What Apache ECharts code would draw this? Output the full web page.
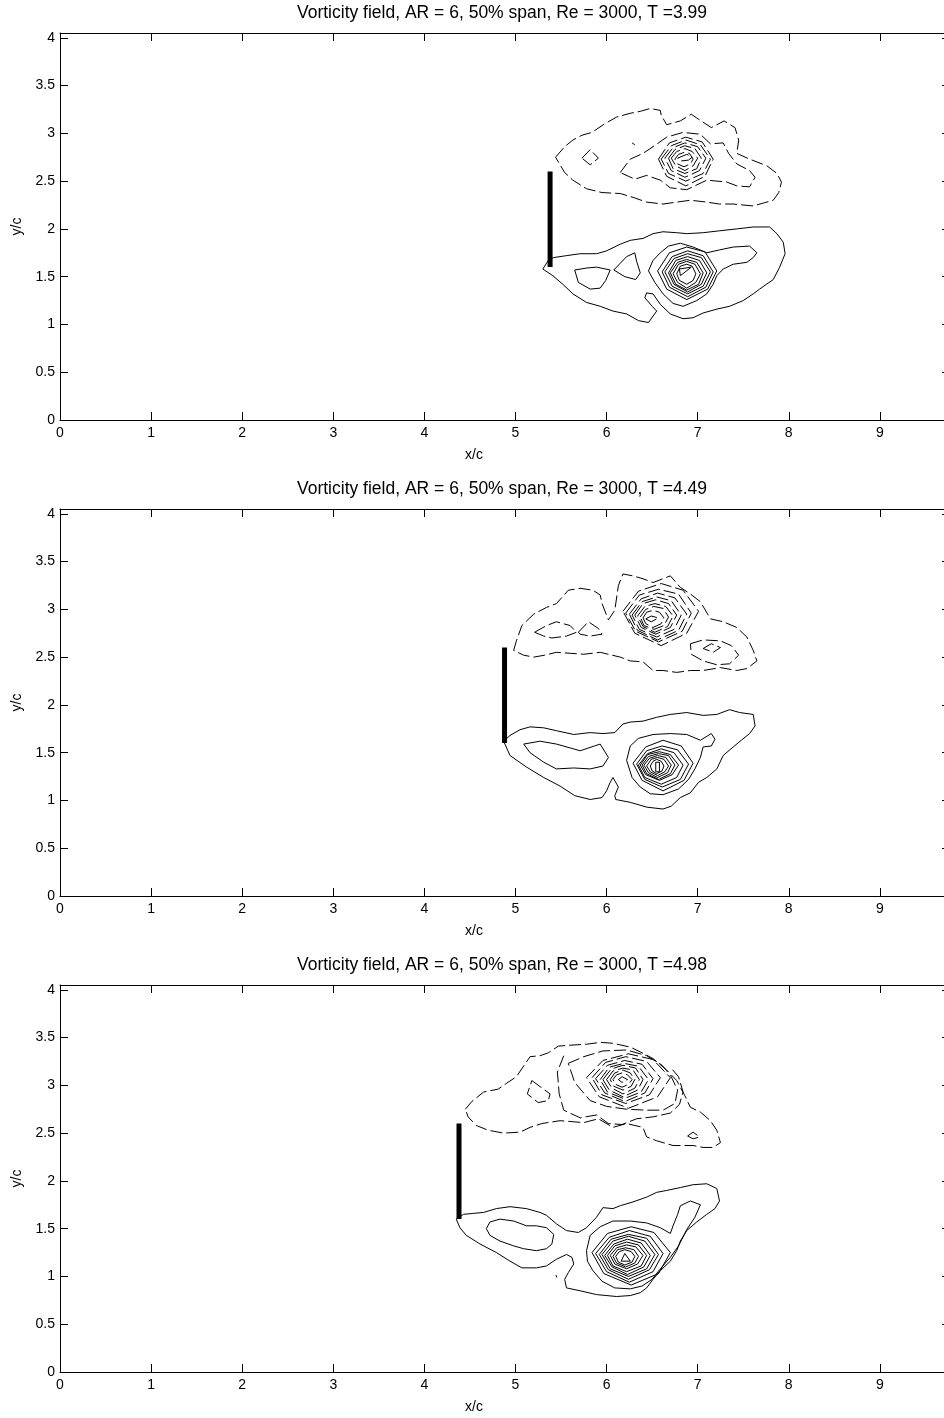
<!DOCTYPE html>
<html><head><meta charset="utf-8">
<script src="https://cdn.jsdelivr.net/npm/echarts@6/dist/echarts.min.js"></script>
<style>html,body{margin:0;padding:0;background:#fff;overflow:hidden;width:944px;height:1418px}#c{width:952px;height:1418px}</style>
</head><body><div id="c"></div>
<script>
const titles = ['Vorticity field, AR = 6, 50% span, Re = 3000, T =3.99','Vorticity field, AR = 6, 50% span, Re = 3000, T =4.49','Vorticity field, AR = 6, 50% span, Re = 3000, T =4.98'];
const xTicks = [0,1,2,3,4,5,6,7,8,9];
const yTicks = [0,0.5,1,1.5,2,2.5,3,3.5,4];
const plateX = [5.38, 4.88, 4.38];
const plateY = [1.6, 2.6];

// ---------- Panel 1 (T = 3.99) ----------
const p1Solid = [
 [[5.36,1.67],[5.30,1.58],[5.41,1.51],[5.52,1.42],[5.63,1.32],[5.78,1.23],[5.93,1.19],[6.07,1.14],[6.22,1.11],[6.35,1.04],[6.46,1.02],[6.55,1.14],[6.50,1.19],[6.42,1.28],[6.44,1.33],[6.51,1.32],[6.59,1.21],[6.70,1.11],[6.84,1.06],[6.95,1.07],[7.06,1.12],[7.21,1.16],[7.35,1.19],[7.50,1.25],[7.61,1.32],[7.68,1.37],[7.83,1.47],[7.90,1.60],[7.96,1.74],[7.94,1.86],[7.87,1.95],[7.79,2.02],[7.61,2.02],[7.43,2.00],[7.24,1.98],[7.06,1.96],[6.88,1.95],[6.77,1.96],[6.62,1.97],[6.51,1.95],[6.40,1.90],[6.26,1.88],[6.15,1.84],[6.00,1.77],[5.89,1.74],[5.71,1.74],[5.56,1.72],[5.42,1.70]],
 [[5.65,1.57],[5.69,1.44],[5.82,1.37],[5.93,1.38],[5.99,1.46],[6.04,1.57],[5.89,1.60],[5.78,1.59]],
 [[6.08,1.57],[6.22,1.71],[6.31,1.75],[6.33,1.66],[6.37,1.54],[6.32,1.47],[6.20,1.50]],
 [[6.46,1.56],[6.51,1.67],[6.59,1.75],[6.68,1.82],[6.81,1.85],[6.95,1.81],[7.10,1.75],[7.24,1.78],[7.39,1.81],[7.57,1.82],[7.65,1.75],[7.61,1.70],[7.54,1.65],[7.39,1.63],[7.28,1.58],[7.21,1.51],[7.17,1.42],[7.10,1.32],[6.99,1.25],[6.84,1.19],[6.73,1.22],[6.62,1.32],[6.53,1.44]],
 [[6.56,1.56],[6.69,1.75],[6.88,1.81],[7.08,1.76],[7.21,1.56],[7.11,1.37],[6.88,1.26],[6.66,1.37]],
 [[6.61,1.55],[6.72,1.71],[6.89,1.77],[7.06,1.72],[7.17,1.55],[7.09,1.39],[6.89,1.29],[6.69,1.39]],
 [[6.64,1.55],[6.74,1.69],[6.89,1.74],[7.04,1.70],[7.14,1.55],[7.06,1.40],[6.89,1.32],[6.72,1.40]],
 [[6.68,1.54],[6.76,1.67],[6.89,1.71],[7.02,1.67],[7.10,1.54],[7.04,1.42],[6.89,1.34],[6.74,1.42]],
 [[6.70,1.54],[6.78,1.65],[6.88,1.68],[6.99,1.65],[7.06,1.54],[7.01,1.42],[6.88,1.36],[6.76,1.42]],
 [[6.73,1.53],[6.79,1.63],[6.88,1.66],[6.97,1.63],[7.03,1.53],[6.98,1.44],[6.88,1.38],[6.78,1.44]],
 [[6.77,1.53],[6.81,1.61],[6.88,1.63],[6.94,1.61],[6.98,1.53],[6.95,1.46],[6.88,1.42],[6.80,1.46]],
 [[6.80,1.58],[6.93,1.60],[6.81,1.51]]
];
const p1Dashed = [
 [[5.44,2.75],[5.54,2.86],[5.63,2.93],[5.73,2.98],[5.84,3.01],[5.98,3.10],[6.11,3.17],[6.26,3.21],[6.37,3.23],[6.48,3.26],[6.59,3.24],[6.60,3.19],[6.66,3.09],[6.81,3.13],[6.93,3.20],[6.99,3.16],[7.15,3.06],[7.29,3.13],[7.41,3.06],[7.45,2.93],[7.43,2.79],[7.57,2.73],[7.76,2.66],[7.87,2.58],[7.92,2.49],[7.89,2.38],[7.83,2.30],[7.72,2.27],[7.61,2.24],[7.39,2.26],[7.24,2.26],[7.10,2.28],[6.92,2.30],[6.77,2.28],[6.62,2.26],[6.44,2.28],[6.29,2.33],[6.15,2.37],[5.95,2.38],[5.78,2.42],[5.63,2.51],[5.54,2.59]],
 [[6.15,2.59],[6.26,2.73],[6.40,2.79],[6.51,2.86],[6.66,2.96],[6.84,3.01],[7.03,2.99],[7.14,2.89],[7.28,2.90],[7.34,2.79],[7.43,2.68],[7.57,2.61],[7.63,2.54],[7.57,2.44],[7.43,2.45],[7.32,2.49],[7.10,2.51],[6.88,2.41],[6.70,2.43],[6.59,2.51],[6.44,2.56],[6.31,2.52]],
 [[6.57,2.73],[6.69,2.90],[6.87,2.96],[7.05,2.91],[7.17,2.73],[7.08,2.55],[6.87,2.45],[6.66,2.55]],
 [[6.60,2.73],[6.71,2.87],[6.87,2.93],[7.03,2.88],[7.14,2.73],[7.06,2.58],[6.87,2.50],[6.68,2.58]],
 [[6.64,2.74],[6.73,2.85],[6.86,2.90],[7.00,2.86],[7.09,2.74],[7.02,2.61],[6.86,2.54],[6.71,2.61]],
 [[6.68,2.74],[6.75,2.83],[6.86,2.87],[6.97,2.84],[7.04,2.74],[6.99,2.63],[6.86,2.58],[6.73,2.63]],
 [[6.71,2.74],[6.77,2.81],[6.86,2.84],[6.94,2.81],[7.00,2.74],[6.95,2.66],[6.86,2.61],[6.76,2.66]],
 [[6.75,2.73],[6.79,2.78],[6.85,2.80],[6.91,2.79],[6.95,2.73],[6.92,2.68],[6.85,2.65],[6.78,2.68]],
 [[6.78,2.74],[6.88,2.78],[6.94,2.75],[6.90,2.72],[6.81,2.71]],
 [[5.73,2.74],[5.82,2.83],[5.91,2.74],[5.82,2.67]]
];
const p1Open = [
 [[6.28,2.90],[6.31,2.88]]
];

// ---------- Panel 2 (T = 4.49) ----------
const p2Solid = [
 [[4.87,1.62],[4.94,1.47],[5.12,1.35],[5.31,1.24],[5.49,1.15],[5.65,1.05],[5.82,1.01],[5.95,1.03],[6.00,1.10],[6.04,1.19],[6.07,1.24],[6.13,1.14],[6.09,1.05],[6.10,1.01],[6.26,0.98],[6.44,0.93],[6.62,0.91],[6.71,0.94],[6.81,1.03],[6.92,1.08],[7.01,1.19],[7.10,1.24],[7.21,1.33],[7.28,1.47],[7.39,1.56],[7.48,1.63],[7.57,1.70],[7.63,1.78],[7.61,1.90],[7.46,1.92],[7.35,1.95],[7.21,1.90],[7.06,1.89],[6.88,1.92],[6.70,1.90],[6.55,1.87],[6.40,1.83],[6.26,1.82],[6.18,1.80],[6.09,1.71],[5.96,1.70],[5.82,1.71],[5.64,1.69],[5.45,1.73],[5.31,1.76],[5.16,1.77],[5.05,1.74],[4.94,1.68]],
 [[5.09,1.59],[5.27,1.62],[5.45,1.59],[5.71,1.52],[5.93,1.59],[6.02,1.45],[5.96,1.36],[5.82,1.33],[5.64,1.34],[5.45,1.33],[5.31,1.40],[5.16,1.50]],
 [[6.22,1.42],[6.26,1.57],[6.35,1.65],[6.51,1.69],[6.70,1.70],[6.88,1.69],[7.03,1.63],[7.15,1.70],[7.19,1.64],[7.15,1.57],[7.06,1.56],[7.03,1.45],[6.97,1.33],[6.90,1.22],[6.79,1.12],[6.62,1.06],[6.48,1.07],[6.37,1.14],[6.28,1.24]],
 [[6.29,1.39],[6.43,1.56],[6.62,1.63],[6.82,1.57],[6.95,1.39],[6.85,1.21],[6.62,1.10],[6.39,1.21]],
 [[6.33,1.38],[6.44,1.52],[6.61,1.57],[6.78,1.53],[6.90,1.38],[6.81,1.22],[6.61,1.14],[6.42,1.22]],
 [[6.35,1.37],[6.45,1.49],[6.60,1.54],[6.74,1.50],[6.84,1.37],[6.77,1.24],[6.60,1.17],[6.42,1.24]],
 [[6.37,1.37],[6.45,1.48],[6.58,1.51],[6.70,1.48],[6.79,1.37],[6.72,1.27],[6.58,1.21],[6.43,1.27]],
 [[6.39,1.37],[6.46,1.46],[6.57,1.49],[6.68,1.47],[6.75,1.37],[6.70,1.28],[6.57,1.22],[6.44,1.28]],
 [[6.41,1.37],[6.47,1.44],[6.56,1.47],[6.65,1.45],[6.71,1.37],[6.67,1.29],[6.56,1.24],[6.46,1.29]],
 [[6.44,1.36],[6.49,1.43],[6.56,1.45],[6.63,1.43],[6.68,1.36],[6.64,1.30],[6.56,1.26],[6.48,1.30]],
 [[6.48,1.36],[6.51,1.41],[6.55,1.43],[6.60,1.41],[6.63,1.36],[6.61,1.31],[6.55,1.28],[6.50,1.31]],
 [[6.54,1.40],[6.58,1.40],[6.58,1.30],[6.54,1.30]]
];
const p2Dashed = [
 [[4.98,2.57],[5.01,2.67],[5.07,2.83],[5.20,2.95],[5.34,3.02],[5.45,3.06],[5.58,3.20],[5.71,3.22],[5.85,3.20],[5.93,3.15],[5.95,3.06],[6.02,2.89],[6.09,2.99],[6.13,3.25],[6.18,3.37],[6.29,3.35],[6.40,3.32],[6.51,3.28],[6.70,3.35],[6.81,3.23],[6.92,3.16],[7.03,3.08],[7.14,2.90],[7.28,2.87],[7.43,2.81],[7.54,2.71],[7.61,2.57],[7.65,2.46],[7.54,2.38],[7.43,2.36],[7.25,2.39],[7.06,2.36],[6.92,2.36],[6.77,2.34],[6.62,2.36],[6.51,2.36],[6.40,2.45],[6.26,2.46],[6.15,2.50],[5.93,2.55],[5.75,2.53],[5.60,2.54],[5.45,2.55],[5.32,2.52],[5.20,2.50],[5.09,2.52]],
 [[5.21,2.76],[5.34,2.83],[5.45,2.87],[5.60,2.83],[5.67,2.76],[5.56,2.72],[5.40,2.70],[5.31,2.72]],
 [[5.69,2.76],[5.80,2.87],[5.91,2.80],[5.95,2.74],[5.82,2.72],[5.71,2.74]],
 [[6.18,2.98],[6.35,3.19],[6.60,3.27],[6.84,3.20],[7.01,2.98],[6.88,2.75],[6.60,2.62],[6.31,2.75]],
 [[6.21,2.96],[6.36,3.15],[6.57,3.21],[6.79,3.16],[6.93,2.96],[6.83,2.77],[6.57,2.66],[6.32,2.77]],
 [[6.25,2.95],[6.38,3.11],[6.56,3.17],[6.75,3.12],[6.88,2.95],[6.79,2.78],[6.56,2.68],[6.34,2.78]],
 [[6.28,2.94],[6.39,3.08],[6.55,3.13],[6.71,3.09],[6.82,2.94],[6.74,2.79],[6.55,2.71],[6.36,2.79]],
 [[6.31,2.94],[6.40,3.06],[6.54,3.10],[6.68,3.06],[6.77,2.94],[6.70,2.81],[6.54,2.74],[6.38,2.81]],
 [[6.34,2.93],[6.42,3.03],[6.53,3.06],[6.65,3.03],[6.73,2.93],[6.67,2.82],[6.53,2.76],[6.40,2.82]],
 [[6.37,2.92],[6.43,3.00],[6.52,3.03],[6.62,3.01],[6.68,2.92],[6.63,2.83],[6.52,2.79],[6.41,2.83]],
 [[6.40,2.91],[6.44,2.97],[6.51,2.99],[6.58,2.97],[6.63,2.91],[6.60,2.85],[6.51,2.81],[6.43,2.85]],
 [[6.43,2.90],[6.49,2.93],[6.57,2.91],[6.49,2.87]],
 [[6.92,2.64],[7.06,2.68],[7.25,2.67],[7.37,2.62],[7.45,2.52],[7.35,2.43],[7.21,2.42],[7.06,2.46],[6.93,2.53]],
 [[7.06,2.59],[7.15,2.64],[7.25,2.60],[7.17,2.55]]
];
const p2Open = [];

// ---------- Panel 3 (T = 4.98) ----------
const p3Solid = [
 [[4.35,1.60],[4.39,1.51],[4.46,1.43],[4.61,1.34],[4.79,1.25],[4.94,1.16],[5.07,1.09],[5.23,1.09],[5.34,1.11],[5.45,1.18],[5.56,1.23],[5.62,1.20],[5.64,1.13],[5.58,1.04],[5.54,0.97],[5.56,0.88],[5.71,0.85],[5.89,0.81],[6.11,0.79],[6.26,0.80],[6.37,0.83],[6.44,0.88],[6.51,0.97],[6.59,1.06],[6.70,1.16],[6.77,1.27],[6.81,1.37],[6.88,1.48],[6.99,1.57],[7.10,1.65],[7.19,1.71],[7.24,1.79],[7.21,1.92],[7.10,1.97],[6.95,1.96],[6.81,1.93],[6.66,1.90],[6.55,1.88],[6.44,1.83],[6.29,1.78],[6.15,1.74],[6.07,1.71],[5.96,1.72],[5.89,1.62],[5.78,1.51],[5.69,1.46],[5.56,1.48],[5.45,1.55],[5.34,1.64],[5.27,1.67],[5.12,1.71],[4.94,1.73],[4.79,1.71],[4.65,1.67],[4.54,1.66],[4.43,1.65]],
 [[4.68,1.50],[4.72,1.57],[4.83,1.60],[4.98,1.58],[5.12,1.53],[5.23,1.53],[5.34,1.51],[5.42,1.44],[5.40,1.34],[5.34,1.29],[5.23,1.27],[5.09,1.29],[4.98,1.32],[4.83,1.37],[4.72,1.43]],
 [[5.78,1.27],[5.82,1.43],[5.93,1.52],[6.07,1.58],[6.26,1.58],[6.44,1.56],[6.59,1.51],[6.70,1.45],[6.73,1.53],[6.78,1.65],[6.81,1.74],[6.92,1.79],[7.03,1.75],[6.97,1.62],[6.88,1.49],[6.79,1.32],[6.70,1.20],[6.59,1.08],[6.50,0.97],[6.39,0.90],[6.26,0.87],[6.09,0.88],[5.95,0.95],[5.85,1.06],[5.79,1.16]],
 [[5.84,1.25],[6.01,1.45],[6.27,1.52],[6.52,1.46],[6.70,1.25],[6.57,1.03],[6.27,0.91],[5.97,1.03]],
 [[5.88,1.24],[6.03,1.41],[6.25,1.48],[6.48,1.42],[6.62,1.24],[6.51,1.05],[6.25,0.94],[6.00,1.05]],
 [[5.92,1.23],[6.05,1.39],[6.24,1.44],[6.44,1.40],[6.57,1.23],[6.47,1.07],[6.24,0.97],[6.02,1.07]],
 [[5.95,1.23],[6.07,1.37],[6.24,1.42],[6.42,1.37],[6.53,1.23],[6.44,1.08],[6.24,1.00],[6.04,1.08]],
 [[5.98,1.22],[6.08,1.34],[6.23,1.39],[6.38,1.35],[6.48,1.22],[6.41,1.10],[6.23,1.02],[6.06,1.10]],
 [[6.01,1.22],[6.09,1.32],[6.22,1.36],[6.35,1.33],[6.44,1.22],[6.38,1.11],[6.22,1.05],[6.07,1.11]],
 [[6.04,1.22],[6.11,1.30],[6.22,1.33],[6.32,1.31],[6.40,1.22],[6.34,1.13],[6.22,1.08],[6.09,1.13]],
 [[6.07,1.21],[6.12,1.28],[6.21,1.30],[6.30,1.28],[6.35,1.21],[6.31,1.14],[6.21,1.10],[6.11,1.14]],
 [[6.10,1.21],[6.14,1.26],[6.20,1.28],[6.27,1.26],[6.31,1.21],[6.28,1.15],[6.20,1.12],[6.13,1.15]],
 [[6.16,1.16],[6.20,1.24],[6.26,1.16]]
];
const p3SolidOpen = [
 [[5.445,1.015],[5.452,0.99]]
];
const p3Dashed = [
 [[4.45,2.75],[4.52,2.83],[4.65,2.93],[4.81,2.96],[4.90,3.02],[5.01,3.09],[5.16,3.30],[5.27,3.31],[5.36,3.34],[5.47,3.41],[5.60,3.42],[5.78,3.43],[5.93,3.45],[6.07,3.44],[6.26,3.40],[6.37,3.35],[6.51,3.28],[6.66,3.16],[6.77,3.05],[6.86,2.89],[6.92,2.77],[7.03,2.72],[7.14,2.63],[7.21,2.53],[7.25,2.40],[7.17,2.35],[7.06,2.35],[6.95,2.37],[6.84,2.37],[6.73,2.37],[6.55,2.42],[6.44,2.46],[6.40,2.56],[6.22,2.60],[6.07,2.56],[5.91,2.65],[5.75,2.61],[5.49,2.63],[5.29,2.60],[5.16,2.56],[5.05,2.51],[4.87,2.50],[4.70,2.53],[4.57,2.58],[4.48,2.67]],
 [[5.18,3.05],[5.38,2.91],[5.36,2.84],[5.25,2.82],[5.13,2.91]],
 [[5.58,3.23],[5.75,3.30],[5.96,3.36],[6.22,3.37],[6.44,3.31],[6.61,3.21],[6.71,3.09],[6.78,2.95],[6.75,2.81],[6.62,2.74],[6.44,2.74],[6.22,2.75],[6.00,2.78],[5.82,2.84],[5.65,3.03]],
 [[5.78,3.08],[5.96,3.26],[6.24,3.33],[6.51,3.27],[6.70,3.08],[6.56,2.88],[6.24,2.76],[5.92,2.88]],
 [[5.84,3.08],[5.99,3.24],[6.21,3.30],[6.44,3.25],[6.59,3.08],[6.47,2.90],[6.21,2.81],[5.95,2.90]],
 [[5.88,3.07],[6.01,3.21],[6.20,3.26],[6.39,3.22],[6.51,3.07],[6.42,2.92],[6.20,2.83],[5.98,2.92]],
 [[5.93,3.06],[6.03,3.19],[6.19,3.23],[6.35,3.20],[6.46,3.06],[6.38,2.93],[6.19,2.86],[6.01,2.93]],
 [[5.96,3.06],[6.05,3.17],[6.18,3.21],[6.32,3.18],[6.40,3.06],[6.34,2.95],[6.18,2.88],[6.03,2.95]],
 [[6.00,3.06],[6.07,3.15],[6.18,3.18],[6.29,3.16],[6.36,3.06],[6.31,2.97],[6.18,2.91],[6.06,2.97]],
 [[6.04,3.06],[6.09,3.13],[6.18,3.16],[6.26,3.13],[6.31,3.06],[6.27,2.99],[6.18,2.95],[6.08,2.99]],
 [[6.07,3.06],[6.11,3.11],[6.17,3.13],[6.23,3.11],[6.28,3.06],[6.24,3.01],[6.17,2.98],[6.10,3.01]],
 [[6.13,3.06],[6.17,3.09],[6.23,3.06],[6.17,3.03]],
 [[6.89,2.47],[6.95,2.51],[7.02,2.46],[6.95,2.44]]
];
const p3Open = [
 [[5.53,3.31],[5.46,3.14],[5.48,2.91],[5.53,2.74],[5.71,2.66],[5.89,2.69],[6.02,2.60],[6.17,2.59],[6.33,2.65],[6.51,2.67],[6.70,2.71],[6.80,2.80],[6.84,2.93],[6.79,3.09],[6.70,3.19]]
];

const panels = [
 {solid:p1Solid, solidOpen:[], dashed:p1Dashed, dashedOpen:p1Open},
 {solid:p2Solid, solidOpen:[], dashed:p2Dashed, dashedOpen:p2Open},
 {solid:p3Solid, solidOpen:p3SolidOpen, dashed:p3Dashed, dashedOpen:p3Open}
];

const FONT = '"Liberation Sans", Arial, Helvetica, sans-serif';
const chart = echarts.init(document.getElementById('c'), null, {renderer:'canvas'});
const grids = [], xAxes = [], yAxes = [], series = [], titleList = [];
const GT = [33, 509, 985];
const XMAX = 9.77;
for (let i = 0; i < 3; i++) {
 grids.push({left:60, top:GT[i], width:890, height:387, containLabel:false});
 titleList.push({text:titles[i], left:502, top:GT[i]-29, textAlign:'center', padding:0,
   textStyle:{fontSize:17.5, fontWeight:'normal', color:'#000', fontFamily:FONT}});
}
const axLine = {show:true, onZero:false, lineStyle:{color:'#000', width:1}};
for (let i = 0; i < 3; i++) {
 xAxes.push({type:'value', gridIndex:i, min:0, max:XMAX, interval:1, position:'bottom',
   axisLine:axLine, axisTick:{show:true, inside:true, length:8, lineStyle:{color:'#000'}},
   splitLine:{show:false},
   axisLabel:{show:true, margin:6, color:'#000', fontSize:14, fontFamily:FONT, showMaxLabel:false,
     formatter:v => xTicks.indexOf(Math.round(v*100)/100) >= 0 ? String(Math.round(v)) : ''},
   name:'x/c', nameLocation:'middle', nameGap:28,
   nameTextStyle:{color:'#000', fontSize:14, fontFamily:FONT, padding:[0,62,0,0]}});
}
for (let i = 0; i < 3; i++) {
 xAxes.push({type:'value', gridIndex:i, min:0, max:XMAX, interval:1, position:'top',
   axisLine:axLine, axisTick:{show:true, inside:true, length:8, lineStyle:{color:'#000'}},
   splitLine:{show:false}, axisLabel:{show:false}});
}
for (let i = 0; i < 3; i++) {
 yAxes.push({type:'value', gridIndex:i, min:0, max:4.05, interval:0.5, position:'left',
   axisLine:axLine, axisTick:{show:true, inside:true, length:8, lineStyle:{color:'#000'}},
   splitLine:{show:false},
   axisLabel:{show:true, margin:5, color:'#000', fontSize:14, fontFamily:FONT,
     formatter:v => yTicks.indexOf(Math.round(v*100)/100) >= 0 ? String(Math.round(v*10)/10) : ''},
   name:'y/c', nameLocation:'middle', nameGap:34, nameRotate:90,
   nameTextStyle:{color:'#000', fontSize:14, fontFamily:FONT}});
}
for (let i = 0; i < 3; i++) {
 yAxes.push({type:'value', gridIndex:i, min:0, max:4.05, interval:0.5, position:'right',
   axisLine:{show:true, onZero:false, lineStyle:{color:'#000', width:1}},
   axisTick:{show:true, inside:true, length:8, lineStyle:{color:'#000'}},
   splitLine:{show:false}, axisLabel:{show:false}});
}
function add(i, shapes, dashed, closed) {
 shapes.forEach(s => {
   series.push({type:'line', xAxisIndex:i, yAxisIndex:i, data: closed ? s.concat([s[0]]) : s,
     symbol:'none', showSymbol:false, silent:true, animation:false, z:3, clip:true,
     lineStyle:{color:'#000', width:1, type: dashed ? [12,4] : 'solid'}});
 });
}
panels.forEach((p, i) => {
 add(i, p.solid, false, true);
 add(i, p.solidOpen, false, false);
 add(i, p.dashed, true, true);
 add(i, p.dashedOpen, true, false);
 series.push({type:'line', xAxisIndex:i, yAxisIndex:i,
   data:[[plateX[i], plateY[0]], [plateX[i], plateY[1]]],
   symbol:'none', silent:true, animation:false, z:4,
   lineStyle:{color:'#000', width:5, cap:'butt'}});
});
chart.setOption({backgroundColor:'#fff', animation:false, title:titleList, grid:grids,
 xAxis:xAxes, yAxis:yAxes, series:series});
</script></body></html>
